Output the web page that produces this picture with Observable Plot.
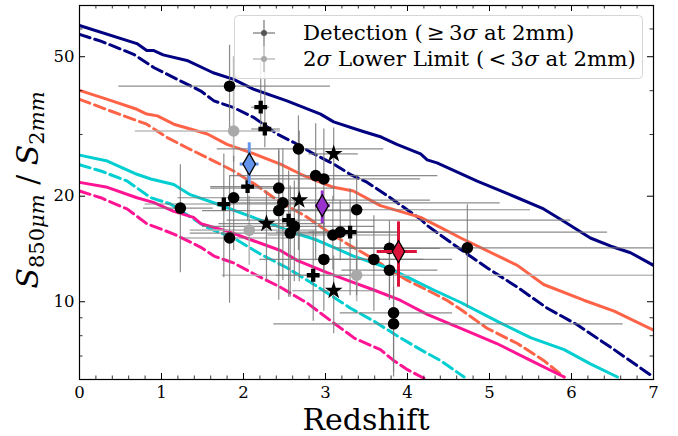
<!DOCTYPE html>
<html><head><meta charset="utf-8">
<script src="https://cdn.jsdelivr.net/npm/d3@7"></script>
<script src="https://cdn.jsdelivr.net/npm/@observablehq/plot@0.6"></script>
<style>
body{margin:0;background:#fff;}
#chart{position:relative;width:678px;height:436px;}
</style></head><body><div id="chart"></div>
<script>
// ---- model curves (x = redshift, y = S850/S2mm) ----
const navyX = [0, 0.7, 0.82, 0.9, 1.02, 1.31, 1.63, 1.88, 2.12, 2.53, 2.94, 3.1, 3.44, 3.68, 3.87, 4.16, 4.24, 4.36, 4.85, 5.34, 5.66, 5.9, 6.23, 6.48, 6.72, 7];
const navyY = [61.4, 54.5, 52.1, 52.1, 50.6, 48.8, 45.0, 43.1, 40.4, 37.4, 34.3, 32.6, 30.7, 29.5, 28.1, 26.4, 25.4, 24.9, 22.1, 19.8, 18.4, 17.0, 15.2, 14.4, 13.8, 12.7];
const navyDashX = [0, 0.26, 0.66, 0.91, 1.15, 1.48, 1.64, 1.88, 2.13, 2.41, 2.61, 2.86, 3.1, 3.3, 3.51, 3.79, 4.16, 4.24, 4.61, 4.97, 5.34, 5.7, 6.07, 6.52, 7];
const navyDashY = [57.9, 55.4, 50.8, 46.5, 43.6, 39.9, 37.4, 35.8, 33.5, 30.1, 28.5, 26.4, 24.7, 23.1, 21.9, 19.8, 17.2, 16.5, 14.3, 12.5, 11.0, 9.6, 8.6, 7.3, 6.1];
const tomatoX = [0, 0.34, 0.7, 0.82, 0.95, 1.15, 1.31, 1.56, 1.8, 2.13, 2.45, 2.7, 2.94, 3.1, 3.34, 3.67, 4.16, 4.4, 4.65, 5.34, 5.66, 6.15, 6.52, 7];
const tomatoY = [40.1, 37.8, 35.4, 34.3, 33.9, 32.1, 31.3, 30.1, 28.1, 26.4, 24.7, 23.1, 21.9, 21.2, 20.7, 18.8, 17.4, 16.3, 15.2, 12.7, 11.2, 10.1, 9.4, 8.3];
const tomatoDashX = [0, 0.38, 0.82, 1.07, 1.31, 1.64, 1.88, 2.13, 2.37, 2.53, 2.78, 3.02, 3.27, 3.55, 3.75, 4.0, 4.24, 4.48, 4.65, 4.97, 5.34, 5.66, 5.91];
const tomatoDashY = [37.8, 35.0, 32.1, 29.4, 27.5, 25.2, 23.6, 21.7, 19.8, 18.8, 17.4, 15.9, 14.6, 13.4, 12.5, 11.5, 10.8, 10.1, 9.5, 8.4, 7.6, 6.8, 6.1];
const cyanX = [0, 0.34, 0.7, 0.87, 1.15, 1.35, 1.68, 2.0, 2.33, 2.66, 2.86, 3.1, 3.34, 3.59, 3.83, 4.08, 4.32, 4.65, 5.09, 5.5, 5.91, 6.23, 6.56];
const cyanY = [26.2, 25.2, 23.1, 22.4, 21.6, 20.2, 19.0, 17.8, 16.7, 15.6, 15.1, 14.3, 13.5, 12.9, 12.3, 11.5, 10.8, 9.95, 8.8, 7.9, 7.3, 6.65, 6.1];
const cyanDashX = [0, 0.26, 0.58, 0.87, 1.11, 1.23, 1.55, 1.88, 2.2, 2.53, 2.86, 3.1, 3.3, 3.59, 3.71, 3.91, 4.16, 4.4, 4.69];
const cyanDashY = [24.6, 23.6, 22.1, 19.8, 19.0, 18.2, 16.3, 15.2, 13.7, 12.5, 11.2, 10.3, 9.6, 8.8, 8.45, 7.9, 7.3, 6.8, 6.1];
const pinkX = [0, 0.34, 0.7, 0.9, 1.15, 1.39, 1.48, 1.8, 2.13, 2.45, 2.66, 3.02, 3.27, 3.59, 3.91, 4.24, 4.65, 5.09, 5.5, 5.91];
const pinkY = [21.9, 21.2, 19.8, 19.2, 18.1, 17.4, 16.7, 15.9, 14.9, 14.0, 13.1, 12.1, 11.5, 10.8, 10.1, 9.2, 8.4, 7.6, 6.8, 6.1];
const pinkDashX = [0, 0.26, 0.58, 0.82, 1.15, 1.48, 1.64, 1.88, 2.13, 2.45, 2.78, 3.1, 3.36, 3.67, 3.83, 4.0, 4.2];
const pinkDashY = [20.7, 19.8, 18.4, 16.7, 15.6, 14.3, 13.5, 12.9, 12.0, 11.0, 9.9, 8.7, 7.85, 7.3, 6.8, 6.4, 6.05];

// ---- detections: circles ----
const circX   = [1.83, 2.67, 2.88, 2.98, 2.43, 1.88, 2.48, 1.23, 2.43, 3.38, 2.62, 2.57, 1.83, 3.09, 3.18, 2.98, 3.59, 3.78, 3.78, 3.83, 3.83, 4.73];
const circY   = [41.2, 27.3, 22.9, 22.4, 21.1, 19.8, 19.15, 18.5, 18.2, 18.3, 16.4, 15.7, 15.2, 15.5, 15.8, 13.2, 13.2, 14.2, 12.3, 9.3, 8.65, 14.25];
const circXlo = [0.48, 1.68, 1.84, 2.02, 1.6, 1.2, 1.7, 0.78, 1.5, 2.6, 1.5, 1.35, 1.27, 2.3, 2.4, 2.2, 3.0, 3.3, 3.2, 3.18, 2.37, 3.1];
const circXhi = [3.06, 3.71, 4.37, 4.16, 3.1, 2.5, 5.13, 1.63, 3.4, 5.5, 3.6, 3.3, 2.6, 3.9, 6.44, 4.55, 4.2, 4.4, 4.37, 4.55, 6.63, 7.0];
const circYlo = [30.7, 14.0, 13.1, 12.3, 10.1, 14.0, 11.5, 12.1, 11.9, 10.4, 11.4, 10.3, 9.9, 12.3, 13.1, 9.4, 9.4, 10.1, 10.1, 6.3, 6.1, 9.6];
const circYhi = [53.9, 33.9, 32.2, 31.1, 27.3, 26.0, 27.3, 24.6, 26.9, 23.0, 22.1, 21.4, 22.9, 20.0, 19.4, 18.2, 17.6, 17.0, 14.9, 12.5, 11.0, 18.9];
// ---- detections: plus markers ----
const plusX   = [2.21, 2.26, 2.05, 1.76, 2.55, 3.30, 2.85];
const plusY   = [35.9, 31.1, 21.3, 19.0, 17.1, 15.8, 11.9];
const plusXlo = [2.1, 2.1, 1.6, 0.8, 1.8, 2.8, 2.4];
const plusXhi = [2.32, 2.45, 2.5, 2.7, 5.99, 3.9, 3.3];
const plusYlo = [31.2, 27.5, 17.0, 11.7, 10.3, 10.4, 8.8];
const plusYhi = [48.6, 48.6, 26.0, 26.4, 23.6, 21.0, 15.9];
// ---- detections: stars ----
const starX   = [3.10, 2.68, 2.28, 3.10];
const starY   = [26.4, 19.5, 16.7, 10.75];
const starXlo = [2.8, 1.9, 1.7, 2.6];
const starXhi = [3.4, 4.28, 3.0, 3.6];
const starYlo = [19.4, 11.4, 11.5, 8.1];
const starYhi = [31.3, 30.7, 20.7, 13.5];
// ---- 2 sigma lower limits ----
const limX   = [1.88, 2.07, 3.38];
const limY   = [30.7, 16.0, 11.9];
const limXlo = [0.68, 1.35, 1.74];
const limXhi = [2.45, 2.9, 7.0];
const limYlo = [25.0, 12.7, 10.0];
const limYhi = [50.0, 20.0, 15.0];
// ---- highlighted diamonds ----
const diaX   = [2.07, 2.96, 3.89];
const diaY   = [24.7, 18.8, 13.9];
const diaXlo = [1.96, 2.88, 3.63];
const diaXhi = [2.19, 3.06, 4.12];
const diaYlo = [21.6, 16.7, 11.0];
const diaYhi = [28.4, 20.7, 16.9];
const diaColor = ["#6495ed", "#9932cc", "#dc143c"];

// ---- ticks ----
const xMajor = [0, 1, 2, 3, 4, 5, 6, 7];
const xMinor = d3.range(0, 35).map(i => i / 5).filter(v => Math.abs(v - Math.round(v)) > 1e-6);
const yMajor = [10, 20, 50];
const yMinor = [7, 8, 9, 30, 40, 60];

const W = 678, H = 436, mL = 79, mR = 25, mT = 5, mB = 57;
const innerW = W - mL - mR, innerH = H - mT - mB;
const serif = "'DejaVu Serif', serif";

const toLine = (xs, ys) => xs.map((x, i) => ({x, y: ys[i]}));
const toPts = (xs, ys, xlo, xhi, ylo, yhi) => xs.map((x, i) => ({x, y: ys[i], xlo: xlo[i], xhi: xhi[i], ylo: ylo[i], yhi: yhi[i], i}));

const DASH = "11,5";
const curves = [
  {d: toLine(navyX, navyY), c: "#000080", dash: null},
  {d: toLine(navyDashX, navyDashY), c: "#000080", dash: DASH},
  {d: toLine(tomatoX, tomatoY), c: "#ff6347", dash: null},
  {d: toLine(tomatoDashX, tomatoDashY), c: "#ff6347", dash: DASH},
  {d: toLine(cyanX, cyanY), c: "#00ced1", dash: null},
  {d: toLine(cyanDashX, cyanDashY), c: "#00ced1", dash: DASH},
  {d: toLine(pinkX, pinkY), c: "#ff1493", dash: null},
  {d: toLine(pinkDashX, pinkDashY), c: "#ff1493", dash: DASH}
];

const circ = toPts(circX, circY, circXlo, circXhi, circYlo, circYhi);
const plus = toPts(plusX, plusY, plusXlo, plusXhi, plusYlo, plusYhi);
const star = toPts(starX, starY, starXlo, starXhi, starYlo, starYhi);
const lim = toPts(limX, limY, limXlo, limXhi, limYlo, limYhi);
const dia = toPts(diaX, diaY, diaXlo, diaXhi, diaYlo, diaYhi);
const dets = circ.concat(plus, star);

const thinDiamond = {
  draw(ctx, size) {
    const r = Math.sqrt(size / Math.PI);
    const w = r * 0.95, h = r * 1.65;
    ctx.moveTo(0, -h); ctx.lineTo(w, 0); ctx.lineTo(0, h); ctx.lineTo(-w, 0); ctx.closePath();
  }
};

const errStyle = {stroke: "#787878", strokeWidth: 1.2, strokeOpacity: 0.85, clip: true};
const limStyle = {stroke: "#b4b4b4", strokeWidth: 1.7, strokeOpacity: 0.9, clip: true};

const plot = Plot.plot({
  width: W, height: H,
  marginLeft: mL, marginRight: mR, marginTop: mT, marginBottom: mB,
  style: {fontFamily: serif, fontSize: "16.5px", background: "white", color: "black"},
  x: {domain: [0, 7], label: null},
  y: {type: "log", domain: [6, 70], label: null},
  marks: [
    ...curves.map(cv => Plot.line(cv.d, {x: "x", y: "y", stroke: cv.c, strokeWidth: 3, strokeDasharray: cv.dash, clip: true})),
    Plot.ruleY(lim, {y: "y", x1: "xlo", x2: "xhi", ...limStyle}),
    Plot.ruleX(lim, {x: "x", y1: "ylo", y2: "yhi", ...limStyle}),
    Plot.ruleY(dets, {y: "y", x1: "xlo", x2: "xhi", ...errStyle}),
    Plot.ruleX(dets, {x: "x", y1: "ylo", y2: "yhi", ...errStyle}),
    Plot.dot(lim, {x: "x", y: "y", r: 5.8, fill: "#a9a9a9", stroke: "none"}),
    Plot.dot(circ, {x: "x", y: "y", r: 5.8, fill: "black", stroke: "none"}),
    Plot.dot(plus, {x: "x", y: "y", r: 5.4, symbol: "cross", fill: "black", stroke: "none"}),
    Plot.dot(star, {x: "x", y: "y", r: 5.6, symbol: "star", fill: "black", stroke: "none"}),
    Plot.ruleY(dia, {y: "y", x1: "xlo", x2: "xhi", stroke: d => diaColor[d.i], strokeWidth: 3}),
    Plot.ruleX(dia, {x: "x", y1: "ylo", y2: "yhi", stroke: d => diaColor[d.i], strokeWidth: 3}),
    Plot.dot(dia, {x: "x", y: "y", r: 6.6, symbol: thinDiamond, fill: d => diaColor[d.i], stroke: "black", strokeWidth: 1.3}),
    // inward ticks on all four sides
    Plot.ruleX(xMajor, {x: d => d, insetTop: innerH - 6, stroke: "black", strokeWidth: 1}),
    Plot.ruleX(xMinor, {x: d => d, insetTop: innerH - 3.5, stroke: "black", strokeWidth: 0.8}),
    Plot.ruleX(xMajor, {x: d => d, insetBottom: innerH - 6, stroke: "black", strokeWidth: 1}),
    Plot.ruleX(xMinor, {x: d => d, insetBottom: innerH - 3.5, stroke: "black", strokeWidth: 0.8}),
    Plot.ruleY(yMajor, {y: d => d, insetRight: innerW - 6, stroke: "black", strokeWidth: 1}),
    Plot.ruleY(yMinor, {y: d => d, insetRight: innerW - 3.5, stroke: "black", strokeWidth: 0.8}),
    Plot.ruleY(yMajor, {y: d => d, insetLeft: innerW - 6, stroke: "black", strokeWidth: 1}),
    Plot.ruleY(yMinor, {y: d => d, insetLeft: innerW - 3.5, stroke: "black", strokeWidth: 0.8}),
    Plot.axisX({ticks: xMajor, tickSize: 0, tickPadding: 7, tickFormat: d => String(d), label: null, fontSize: 16.5}),
    Plot.axisY({ticks: yMajor, tickSize: 0, tickPadding: 5, tickFormat: d => String(d), label: null, fontSize: 16.5}),
    Plot.frame({stroke: "black", strokeWidth: 1.2})
  ]
});

document.getElementById("chart").appendChild(plot);
const svg = d3.select(plot);

// x label
svg.append("text").attr("x", mL + innerW / 2).attr("y", 430).attr("text-anchor", "middle")
  .attr("font-family", serif).attr("font-size", 30).attr("fill", "black").text("Redshift");

// y label (math style)
const yl = svg.append("text").attr("transform", `translate(38,${mT + innerH / 2 - 2}) rotate(-90)`)
  .attr("text-anchor", "middle").attr("font-family", serif).attr("font-size", 30).attr("fill", "black")
  .attr("xml:space", "preserve").style("white-space", "pre");
yl.append("tspan").attr("font-style", "italic").text("S");
yl.append("tspan").attr("font-size", 21).attr("dy", 6).text("850");
yl.append("tspan").attr("font-size", 21).attr("font-style", "italic").text("\u03bcm");
yl.append("tspan").attr("dy", -6).text(" / ");
yl.append("tspan").attr("font-style", "italic").text("S");
yl.append("tspan").attr("font-size", 21).attr("dy", 6).text("2");
yl.append("tspan").attr("font-size", 21).attr("font-style", "italic").text("mm");

// legend
const lg = svg.append("g").attr("text-anchor", "start");
lg.append("rect").attr("x", 234.5).attr("y", 15.5).attr("width", 408).attr("height", 63).attr("rx", 4)
  .attr("fill", "white").attr("fill-opacity", 0.85).attr("stroke", "#d6d6d6");
const entries = [
  {y: 33, line: "#808080", dot: "#555555", parts: [["Detection (\u2009\u2265\u20093", null], ["\u03c3", "italic"], [" at 2mm)", null]]},
  {y: 59, line: "#b4b4b4", dot: "#a9a9a9", parts: [["2", null], ["\u03c3", "italic"], [" Lower Limit (\u2009<\u20093", null], ["\u03c3", "italic"], [" at 2mm)", null]]}
];
entries.forEach(e => {
  lg.append("line").attr("x1", 264).attr("x2", 264).attr("y1", e.y - 13).attr("y2", e.y + 13).attr("stroke", e.line).attr("stroke-width", 1.3);
  lg.append("line").attr("x1", 253).attr("x2", 275).attr("y1", e.y).attr("y2", e.y).attr("stroke", e.line).attr("stroke-width", 1.3);
  lg.append("circle").attr("cx", 264).attr("cy", e.y).attr("r", 3).attr("fill", e.dot);
  const t = lg.append("text").attr("x", 303).attr("y", e.y + 7).attr("text-anchor", "start")
    .attr("font-family", serif).attr("font-size", 21.3).attr("fill", "black");
  e.parts.forEach(([s, st]) => { const ts = t.append("tspan").text(s); if (st) ts.attr("font-style", st); });
});
</script>
</body></html>
